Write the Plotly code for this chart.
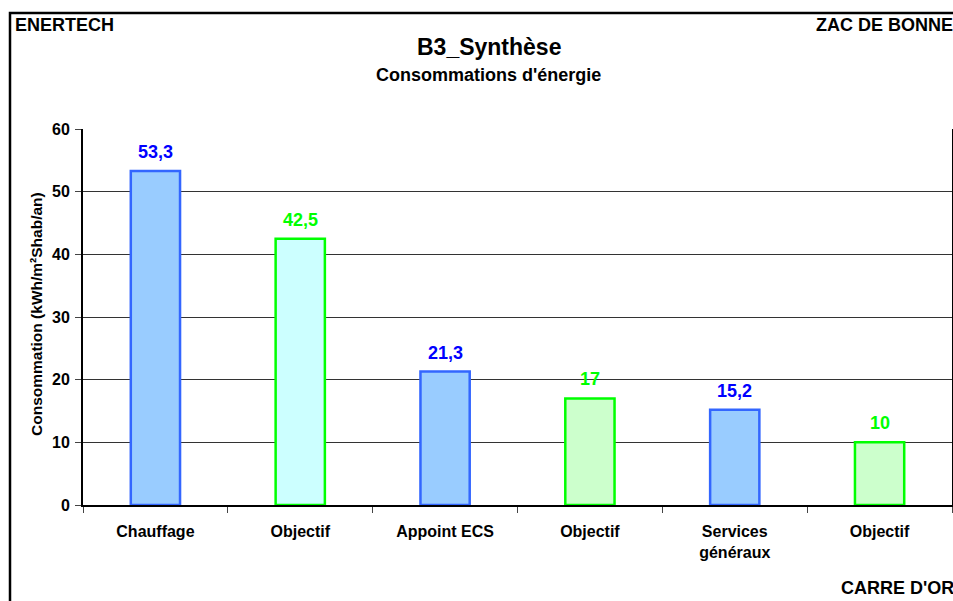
import plotly.graph_objects as go

# Energy consumption summary, B3 building
categories = ["Chauffage", "Objectif", "Appoint ECS", "Objectif", "Services<br>généraux", "Objectif"]
values = [53.3, 42.5, 21.3, 17, 15.2, 10]
fill_colors = ["#99CCFF", "#CCFFFF", "#99CCFF", "#CCFFCC", "#99CCFF", "#CCFFCC"]
line_colors = ["#3366FF", "#00FF00", "#3366FF", "#00FF00", "#3366FF", "#00FF00"]
label_colors = ["#0000FF", "#00FF00", "#0000FF", "#00FF00", "#0000FF", "#00FF00"]
y_ticks = [0, 10, 20, 30, 40, 50, 60]

W, H = 953, 601
L, R, T, B = 83, 1, 129, 96
PW, PH = W - L - R, H - T - B

FONT = "Liberation Sans, Arial, sans-serif"


def fx(px):
    return (px - L) / PW


def fy(py):
    return (H - B - py) / PH


def fmt(v):
    return f"{v:g}".replace(".", ",")


xs = list(range(len(values)))

fig = go.Figure(
    go.Bar(
        x=xs,
        y=values,
        width=0.34,
        marker=dict(color=fill_colors, line=dict(color=line_colors, width=2.5)),
        hoverinfo="skip",
    )
)

annotations = []
for x, v, c in zip(xs, values, label_colors):
    annotations.append(dict(
        x=x, y=v, xref="x", yref="y", text=fmt(v), showarrow=False,
        yanchor="bottom", yshift=7,
        font=dict(family=FONT, size=18, color=c, weight="bold"),
    ))

def text_note(text, px, py, size, xanchor="left"):
    return dict(
        x=fx(px), y=fy(py), xref="paper", yref="paper", text=text,
        showarrow=False, xanchor=xanchor, yanchor="middle",
        font=dict(family=FONT, size=size, color="black", weight="bold"),
    )

annotations += [
    text_note("ENERTECH", 13, 25, 18),
    text_note("ZAC DE BONNE", 814, 25, 18),
    text_note("B3_Synthèse", 489, 47, 23, "center"),
    text_note("Consommations d'énergie", 488, 75, 18, "center"),
    text_note("CARRE D'OR", 839, 588, 18),
    dict(
        x=fx(36), y=fy(314), xref="paper", yref="paper",
        text="Consommation (kWh/m²Shab/an)", textangle=-90, showarrow=False,
        xanchor="center", yanchor="middle",
        font=dict(family=FONT, size=15.5, color="black", weight="bold"),
    ),
]

fig.update_layout(
    width=W, height=H,
    margin=dict(l=L, r=R, t=T, b=B, pad=0, autoexpand=False),
    paper_bgcolor="white", plot_bgcolor="white",
    font=dict(family=FONT, size=16, color="black", weight="bold"),
    showlegend=False,
    annotations=annotations,
    shapes=[dict(
        type="rect", xref="paper", yref="paper",
        x0=fx(10), x1=fx(W + 10), y0=fy(H + 10), y1=fy(13),
        line=dict(color="black", width=2.5), layer="below",
    )],
)

fig.update_xaxes(
    automargin=False,
    range=[-0.5, len(values) - 0.5],
    tickmode="array", tickvals=xs, ticktext=categories,
    ticks="", ticklabelstandoff=11,
    tickfont=dict(family=FONT, size=16, color="black", weight="bold"),
    showline=True, linecolor="black", linewidth=2,
    showgrid=False, zeroline=False,
    minor=dict(tick0=-0.5, dtick=1, ticks="outside", ticklen=6,
               tickcolor="#444", tickwidth=1, showgrid=False),
)

fig.update_yaxes(
    automargin=False,
    range=[0, 60], tickmode="array", tickvals=y_ticks,
    ticks="outside", ticklen=6, tickcolor="#444", ticklabelstandoff=2,
    tickfont=dict(family=FONT, size=16, color="black", weight="bold"),
    showline=True, linecolor="black", linewidth=2, mirror=True,
    showgrid=True, gridcolor="#333", gridwidth=1, zeroline=False,
)

fig.write_html("out.html")
